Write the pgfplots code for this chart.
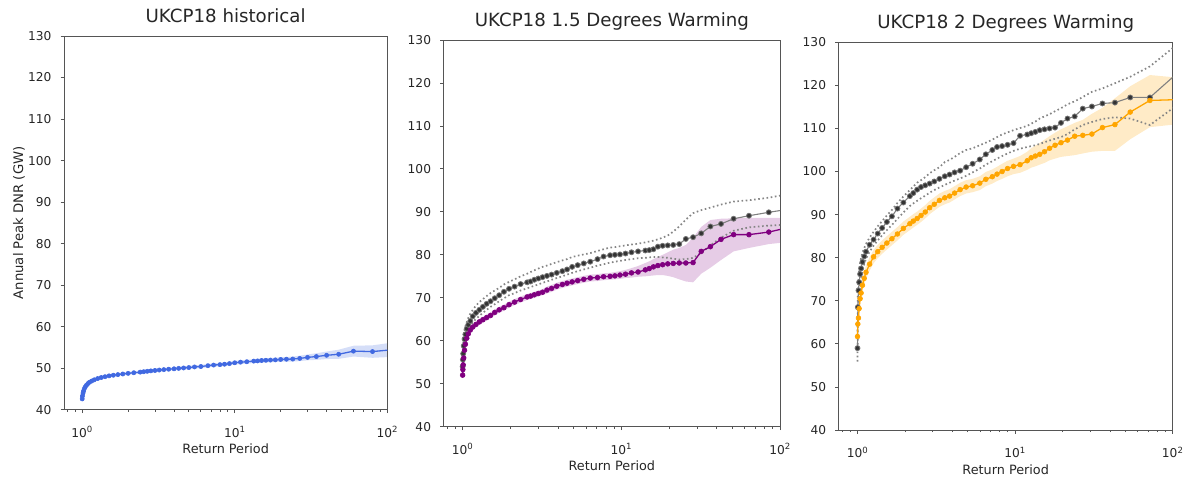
\documentclass[border=0pt]{standalone}
\usepackage{pgfplots}
\pgfplotsset{compat=1.18}
\usepackage{pgfplotstable}
\usepackage{fontspec}
\setmainfont{DejaVu Sans}

\definecolor{histblue}{RGB}{65,105,225}
\definecolor{warmpurple}{RGB}{128,0,128}
\definecolor{warmorange}{RGB}{255,165,0}
\definecolor{txt}{RGB}{38,38,38}
\definecolor{spine}{RGB}{85,85,85}

% historical: return period, annual peak DNR, half-width of the shaded range
\pgfplotstableread{
T y w
1.0 42.6 0.35
1.004 43.3 0.35
1.013 44.0 0.35
1.021 44.5 0.35
1.034 45.1 0.35
1.048 45.5 0.35
1.067 45.9 0.35
1.091 46.3 0.35
1.116 46.6 0.35
1.154 46.9 0.35
1.2 47.2 0.35
1.263 47.5 0.35
1.333 47.75 0.35
1.412 47.95 0.35
1.5 48.15 0.35
1.6 48.3 0.35
1.714 48.45 0.35
1.846 48.6 0.35
2 48.75 0.35
2.18 48.9 0.35
2.4 49.05 0.35
2.53 49.15 0.35
2.67 49.25 0.35
2.82 49.35 0.35
3 49.45 0.35
3.2 49.55 0.35
3.43 49.65 0.35
3.69 49.75 0.35
4 49.85 0.35
4.29 49.95 0.35
4.62 50.05 0.35
5 50.15 0.4
5.45 50.3 0.4
6 50.4 0.4
6.67 50.6 0.4
7.27 50.75 0.4
8 50.85 0.4
8.57 50.95 0.4
9.23 51.1 0.4
10 51.3 0.45
10.91 51.45 0.45
12 51.55 0.45
13.33 51.7 0.45
14.12 51.75 0.45
15 51.85 0.5
16 51.9 0.5
17.14 51.95 0.5
18.46 52.0 0.5
20 52.1 0.55
21.82 52.15 0.55
24 52.2 0.6
26.67 52.35 0.65
30 52.6 0.7
34.29 52.8 0.8
40 53.1 0.9
48 53.35 1.1
60 54.1 1.3
80 54.0 1.5
120 54.6 1.8
240 55.5 2.0
}\histtab

% 1.5 degrees: black ensemble with dotted range, purple ensemble with shaded range
\pgfplotstableread{
T blk dlo dhi pur plo phi
1.0 54.0 52.5 55.5 52.0 51.3 52.7
1.004 55.6 53.8 58.0 53.3 52.6 54.0
1.008 57.0 55.0 59.8 54.4 53.7 55.1
1.016 58.8 56.6 61.4 56.0 55.3 56.7
1.028 60.4 58.0 62.6 57.8 57.1 58.5
1.041 61.5 59.3 63.4 59.2 58.5 59.9
1.0625 62.8 60.8 64.4 60.6 59.9 61.3
1.085 63.7 62.0 65.3 61.6 60.9 62.3
1.118 64.6 63.2 66.3 62.5 61.8 63.2
1.159 65.7 64.3 67.2 63.2 62.5 63.9
1.214 66.5 65.1 68.2 63.8 63.1 64.5
1.275 67.2 65.8 69.0 64.4 63.7 65.1
1.342 67.9 66.5 69.7 64.9 64.2 65.6
1.417 68.6 67.2 70.4 65.4 64.7 66.1
1.50 69.2 67.9 71.1 65.9 65.2 66.6
1.594 69.9 68.5 71.7 66.6 65.9 67.3
1.70 70.6 69.2 72.3 67.2 66.5 67.9
1.821 71.4 69.9 73.1 67.7 67.0 68.4
1.962 72.1 70.6 73.7 68.4 67.7 69.1
2.125 72.6 71.1 74.3 69.0 68.3 69.7
2.32 73.2 71.7 75.0 69.6 68.9 70.3
2.55 73.6 72.2 75.6 70.2 69.5 70.9
2.68 73.8 72.5 76.0 70.4 69.7 71.1
2.83 74.2 72.8 76.4 70.7 70.0 71.4
3.0 74.5 73.1 76.8 71.0 70.3 71.7
3.19 74.8 73.5 77.2 71.3 70.6 72.0
3.40 75.1 73.8 77.5 71.8 71.0 72.6
3.64 75.4 74.2 77.9 72.2 71.4 73.0
3.92 75.8 74.6 78.3 72.7 71.9 73.5
4.25 76.2 75.0 78.7 73.1 72.3 73.9
4.55 76.6 75.4 79.0 73.4 72.6 74.2
4.90 77.2 75.8 79.5 73.7 72.9 74.5
5.31 77.6 76.2 79.8 74.0 73.2 74.8
5.80 78.0 76.6 80.1 74.3 73.5 75.1
6.375 78.4 77.0 80.4 74.6 73.8 75.4
7.08 79.0 77.5 80.9 74.7 73.9 75.5
7.73 79.6 77.8 81.3 74.9 74.1 75.7
8.5 79.9 78.2 81.7 75.0 74.2 75.8
9.11 80.0 78.4 81.8 75.1 74.3 76.0
9.81 80.1 78.6 82.0 75.3 74.4 76.2
10.63 80.3 78.8 82.2 75.5 74.6 76.5
11.59 80.6 79.0 82.4 75.8 74.7 76.9
12.75 80.8 79.2 82.6 76.0 74.9 77.4
14.17 81.0 79.3 82.9 76.5 75.0 78.1
15 81.1 79.4 83.1 76.8 75.1 78.5
15.94 81.3 79.5 83.3 77.2 75.2 79.0
17 81.9 79.5 83.6 77.5 75.3 79.5
18.21 82.1 79.4 84.0 77.7 75.3 80.0
19.62 82.2 79.3 84.5 77.9 75.1 80.6
21.25 82.3 79.1 85.4 78.0 74.8 81.2
23.18 82.5 78.9 86.6 78.1 74.3 81.6
25.5 83.7 79.0 88.2 78.1 73.8 82.3
28.33 84.1 79.3 89.7 78.2 73.6 84.0
31.88 85.0 80.4 90.4 80.8 75.6 86.5
36.43 86.6 82.2 91.0 81.9 77.0 88.1
42.5 87.2 84.0 91.7 83.6 78.8 88.4
51 88.4 85.6 92.4 84.7 80.8 88.5
63.75 89.1 86.4 92.7 84.7 81.6 88.6
85 89.9 86.8 93.3 85.3 82.5 88.6
127.5 90.9 87.2 94.5 86.8 83.2 88.6
255 91.5 87.5 95.5 88.5 84.0 89.0
}\onefivetab

% 2 degrees: black ensemble with dotted range, orange ensemble with shaded range
\pgfplotstableread{
T blk dlo dhi orn olo ohi
1.0 59.0 55.9 62.0 61.7 60.4 63.0
1.005 68.5 64.0 71.0 64.6 63.3 66.0
1.014 72.4 69.5 75.0 66.0 64.7 67.4
1.024 74.3 72.0 77.2 68.2 66.8 69.7
1.039 76.2 74.0 78.8 70.5 69.1 72.0
1.054 77.5 75.5 80.0 71.8 70.4 73.3
1.075 79.0 77.0 81.2 73.6 72.2 75.1
1.103 80.3 78.5 82.2 75.2 73.8 76.7
1.132 81.4 79.8 83.2 76.6 75.1 78.2
1.194 83.0 81.4 84.7 78.5 77.0 80.1
1.265 84.2 82.8 86.0 80.2 78.7 81.8
1.344 85.6 84.0 87.3 81.4 79.9 83.0
1.433 86.9 85.2 88.5 82.4 80.9 84.0
1.536 88.3 86.4 89.8 83.4 81.9 85.0
1.654 89.6 87.6 91.1 84.4 82.9 86.0
1.792 91.4 89.0 92.7 85.5 84.0 87.1
1.955 92.8 90.5 94.2 86.8 85.3 88.4
2.15 94.3 92.0 95.7 87.9 86.4 89.5
2.26 95.0 92.6 96.5 88.5 87.0 90.1
2.39 95.8 93.2 97.4 89.1 87.6 90.7
2.53 96.4 93.8 98.0 89.8 88.3 91.4
2.69 96.8 94.4 98.7 90.6 89.1 92.2
2.87 97.2 95.1 99.6 91.6 90.1 93.2
3.07 97.7 95.7 100.3 92.4 90.9 94.0
3.31 98.3 96.3 101.0 93.3 91.8 94.9
3.58 98.9 96.9 102.2 93.9 92.4 95.5
3.84 99.3 97.4 102.7 94.3 92.8 95.9
4.13 99.8 97.9 103.4 95.0 93.5 96.6
4.48 100.2 98.4 104.3 95.8 94.3 97.4
4.89 101.0 99.0 105.0 96.4 94.9 98.0
5.375 101.8 99.8 105.4 96.7 95.2 98.3
5.97 102.8 100.7 106.1 97.3 95.7 98.9
6.52 104.0 101.6 106.7 98.2 96.6 99.9
7.17 105.0 102.4 107.4 98.8 97.2 100.5
7.68 105.7 103.0 108.0 99.4 97.8 101.1
8.27 105.9 103.6 108.6 100.0 98.3 101.8
8.96 106.2 104.2 109.1 100.7 98.9 102.5
9.77 106.6 104.8 109.6 101.2 99.4 103.0
10.75 108.3 105.3 110.1 101.6 99.7 103.6
11.94 108.6 105.7 110.6 102.5 100.4 104.6
12.65 108.9 105.9 111.1 103.2 100.9 105.4
13.44 109.2 106.1 111.6 103.6 101.2 106.0
14.33 109.6 106.4 112.3 104.0 101.6 106.6
15.36 109.8 106.8 112.8 104.6 102.0 107.4
16.54 110.0 107.2 113.3 105.4 102.6 108.2
17.92 110.2 107.6 114.0 106.1 103.0 109.0
19.55 111.3 108.0 114.7 106.7 103.4 109.8
21.5 112.3 108.7 115.6 107.3 103.6 110.5
23.89 112.8 109.8 116.3 108.2 103.8 111.3
26.88 114.6 110.8 117.3 108.4 104.2 112.0
30.71 115.1 111.5 118.5 108.7 104.6 113.4
35.83 115.8 112.2 119.3 110.2 104.8 114.8
43 116.0 112.6 120.5 110.9 104.8 117.0
53.75 117.2 112.3 122.0 113.8 107.5 119.8
71.67 117.2 110.8 124.4 116.5 110.3 122.4
107.5 122.9 115.5 129.6 116.7 111.0 121.8
215 126.0 118.0 133.0 118.0 111.5 121.5
}\twotab

\tikzset{
  ensline/.style={draw=black!50, line width=1.1bp, mark=*, mark size=2.5bp,
    mark options={fill=black!80, draw=black!55, line width=0.8bp}},
  rangeline/.style={draw=black!48, line width=1.7bp, dash pattern=on 1.6bp off 2.6bp},
  colline/.style={line width=1.3bp, mark=*, mark size=2.4bp, mark options={line width=0.6bp}},
}

\begin{document}
\begin{tikzpicture}
\path[use as bounding box] (0,0) rectangle (1188bp,477bp);

% historical: shaded range (stacked: lower edge, then width)
\begin{axis}[scale only axis, anchor=south west,
  at={(64bp,67.3bp)}, width=323.3bp, height=373.7bp,
  xmode=log, xmin=0.76, xmax=100, ymin=40, ymax=130,
  hide axis, stack plots=y]
  \addplot[draw=none] table[x=T, y expr=\thisrow{y}-\thisrow{w}] {\histtab};
  \addplot[fill=histblue, fill opacity=0.22, draw=none]
    table[x=T, y expr=2*\thisrow{w}] {\histtab} \closedcycle;
\end{axis}
\begin{axis}[scale only axis, anchor=south west,
  at={(64bp,67.3bp)}, width=323.3bp, height=373.7bp,
  xmode=log, xmin=0.76, xmax=100, ymin=40, ymax=130,
  xtick={1,10,100},
  xticklabels={10\textsuperscript{0},10\textsuperscript{1},10\textsuperscript{2}},
  minor xtick={0.8,0.9,2,3,4,5,6,7,8,9,20,30,40,50,60,70,80,90},
  ytick={40,50,60,70,80,90,100,110,120,130},
  xtick pos=bottom, ytick pos=left, tick align=outside,
  major tick length=3.5bp, minor tick length=2bp,
  tick style={spine, line width=0.8bp},
  axis line style={spine, line width=0.8bp},
  /pgf/number format/assume math mode=true,
  ticklabel style={font=\fontsize{12.2bp}{14bp}\selectfont, text=txt},
  yticklabel style={anchor=east, inner sep=0pt, xshift=-9bp},
  xticklabel style={anchor=base, inner sep=0pt, yshift=-24bp},
  title={UKCP18 historical},
  title style={font=\fontsize{18.2bp}{21bp}\selectfont, text=txt,
    at={(0.5,1)}, anchor=base, yshift=7.8bp},
  xlabel={Return Period},
  xlabel style={font=\fontsize{12.8bp}{14bp}\selectfont, text=txt,
    at={(axis description cs:0.5,0)}, anchor=base, yshift=-44bp},
  ylabel={Annual Peak DNR (GW)},
  ylabel style={font=\fontsize{13.2bp}{15bp}\selectfont, text=txt,
    at={(axis description cs:-0.1268,0.5)}, anchor=base}]
  \addplot[histblue, colline, mark size=2.1bp] table[x=T, y=y] {\histtab};
\end{axis}

% 1.5 degrees warming
\begin{axis}[scale only axis, anchor=south west,
  at={(443.7bp,50.3bp)}, width=336.3bp, height=386.7bp,
  xmode=log, xmin=0.76, xmax=100, ymin=40, ymax=130,
  hide axis, stack plots=y]
  \addplot[draw=none] table[x=T, y=plo] {\onefivetab};
  \addplot[fill=warmpurple, fill opacity=0.2, draw=none]
    table[x=T, y expr=\thisrow{phi}-\thisrow{plo}] {\onefivetab} \closedcycle;
\end{axis}
\begin{axis}[scale only axis, anchor=south west,
  at={(443.7bp,50.3bp)}, width=336.3bp, height=386.7bp,
  xmode=log, xmin=0.76, xmax=100, ymin=40, ymax=130,
  xtick={1,10,100},
  xticklabels={10\textsuperscript{0},10\textsuperscript{1},10\textsuperscript{2}},
  minor xtick={0.8,0.9,2,3,4,5,6,7,8,9,20,30,40,50,60,70,80,90},
  ytick={40,50,60,70,80,90,100,110,120,130},
  xtick pos=bottom, ytick pos=left, tick align=outside,
  major tick length=3.5bp, minor tick length=2bp,
  tick style={spine, line width=0.8bp},
  axis line style={spine, line width=0.8bp},
  /pgf/number format/assume math mode=true,
  ticklabel style={font=\fontsize{12.2bp}{14bp}\selectfont, text=txt},
  yticklabel style={anchor=east, inner sep=0pt, xshift=-9bp},
  xticklabel style={anchor=base, inner sep=0pt, yshift=-24bp},
  title={UKCP18 1.5 Degrees Warming},
  title style={font=\fontsize{18.2bp}{21bp}\selectfont, text=txt,
    at={(0.5,1)}, anchor=base, yshift=7.8bp},
  xlabel={Return Period},
  xlabel style={font=\fontsize{12.8bp}{14bp}\selectfont, text=txt,
    at={(axis description cs:0.5,0)}, anchor=base, yshift=-44bp}]
  \addplot[rangeline] table[x=T, y=dhi] {\onefivetab};
  \addplot[rangeline] table[x=T, y=dlo] {\onefivetab};
  \addplot[ensline] table[x=T, y=blk] {\onefivetab};
  \addplot[warmpurple, colline] table[x=T, y=pur] {\onefivetab};
\end{axis}

% 2 degrees warming
\begin{axis}[scale only axis, anchor=south west,
  at={(838.7bp,47bp)}, width=334bp, height=387.7bp,
  xmode=log, xmin=0.76, xmax=100, ymin=40, ymax=130,
  hide axis, stack plots=y]
  \addplot[draw=none] table[x=T, y=olo] {\twotab};
  \addplot[fill=warmorange, fill opacity=0.22, draw=none]
    table[x=T, y expr=\thisrow{ohi}-\thisrow{olo}] {\twotab} \closedcycle;
\end{axis}
\begin{axis}[scale only axis, anchor=south west,
  at={(838.7bp,47bp)}, width=334bp, height=387.7bp,
  xmode=log, xmin=0.76, xmax=100, ymin=40, ymax=130,
  xtick={1,10,100},
  xticklabels={10\textsuperscript{0},10\textsuperscript{1},10\textsuperscript{2}},
  minor xtick={0.8,0.9,2,3,4,5,6,7,8,9,20,30,40,50,60,70,80,90},
  ytick={40,50,60,70,80,90,100,110,120,130},
  xtick pos=bottom, ytick pos=left, tick align=outside,
  major tick length=3.5bp, minor tick length=2bp,
  tick style={spine, line width=0.8bp},
  axis line style={spine, line width=0.8bp},
  /pgf/number format/assume math mode=true,
  ticklabel style={font=\fontsize{12.2bp}{14bp}\selectfont, text=txt},
  yticklabel style={anchor=east, inner sep=0pt, xshift=-9bp},
  xticklabel style={anchor=base, inner sep=0pt, yshift=-24bp},
  title={UKCP18 2 Degrees Warming},
  title style={font=\fontsize{18.2bp}{21bp}\selectfont, text=txt,
    at={(0.5,1)}, anchor=base, yshift=7.8bp},
  xlabel={Return Period},
  xlabel style={font=\fontsize{12.8bp}{14bp}\selectfont, text=txt,
    at={(axis description cs:0.5,0)}, anchor=base, yshift=-44bp}]
  \addplot[rangeline] table[x=T, y=dhi] {\twotab};
  \addplot[rangeline] table[x=T, y=dlo] {\twotab};
  \addplot[ensline] table[x=T, y=blk] {\twotab};
  \addplot[warmorange, colline] table[x=T, y=orn] {\twotab};
\end{axis}
\end{tikzpicture}
\end{document}
